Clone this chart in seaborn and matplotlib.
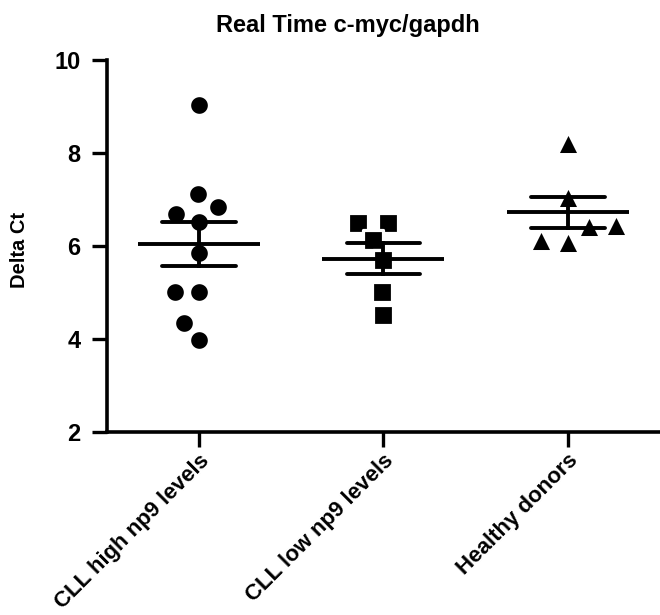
import pandas as pd
import matplotlib
matplotlib.use('Agg')
import matplotlib.pyplot as plt
import seaborn as sns

# values (Delta Ct)
groups = ['CLL high np9 levels', 'CLL low np9 levels', 'Healthy donors']
high_np9 = [9.03, 7.12, 6.84, 6.69, 6.52, 5.85, 5.02, 5.02, 4.35, 3.97]
low_np9 = [6.50, 6.50, 6.13, 5.70, 5.00, 4.52]
healthy = [8.21, 7.06, 6.42, 6.45, 6.09, 6.13]
markers = ['o', 's', '^']

df = pd.DataFrame({
    'group': [groups[0]] * len(high_np9) + [groups[1]] * len(low_np9) + [groups[2]] * len(healthy),
    'dct': high_np9 + low_np9 + healthy,
})

sns.set_style('ticks', {'axes.edgecolor': 'black', 'text.color': 'black',
                        'axes.labelcolor': 'black', 'xtick.color': 'black',
                        'ytick.color': 'black'})
plt.rcParams['font.family'] = ['Liberation Sans', 'DejaVu Sans']
plt.rcParams['font.weight'] = 'bold'

fig = plt.figure(figsize=(6.6, 6.15), dpi=100)
ax = fig.add_axes([0.162, 0.2976, 0.838, 0.6048])

# marker size per shape (triangles look smaller at the same size)
msize = {'o': 14.3, 's': 13.8, '^': 16.0}

# individual points; the white edge gives the swarm a little air between dots
for g, m in zip(groups, markers):
    sub = df[df['group'] == g]
    sns.swarmplot(data=sub, x='group', y='dct', order=groups, marker=m,
                  color='black', size=msize[m], edgecolor='white', linewidth=2.3,
                  ax=ax, zorder=3)

# mean +/- SEM
sns.pointplot(data=df, x='group', y='dct', order=groups, errorbar='se',
              color='black', linestyle='none', marker='_', markersize=88,
              markeredgewidth=2.8, capsize=0.4, err_kws={'linewidth': 2.8},
              ax=ax, zorder=4)

ax.set_xlim(-0.5, 2.5)
ax.set_ylim(2, 10)
ax.set_yticks([2, 4, 6, 8, 10])
ax.set_xlabel('')
ax.set_ylabel('Delta Ct', fontsize=14.5, fontweight='bold')
ax.yaxis.set_label_coords(-0.14, 0.49)
ax.set_title('Real Time c-myc/gapdh', fontsize=17, fontweight='bold',
             x=0.435, pad=20)

sns.despine(ax=ax)
for s in ['left', 'bottom']:
    ax.spines[s].set_linewidth(2.6)
ax.tick_params(axis='both', width=2.4, length=11, direction='out', colors='black')
ax.tick_params(axis='y', labelsize=17, pad=8)
ax.tick_params(axis='x', labelsize=16, pad=2)
for lab in ax.get_yticklabels():
    lab.set_fontweight('bold')
for lab in ax.get_xticklabels():
    lab.set_fontweight('bold')
    lab.set_rotation(45)
    lab.set_ha('right')
    lab.set_rotation_mode('anchor')

fig.savefig('out.png', dpi=100)
